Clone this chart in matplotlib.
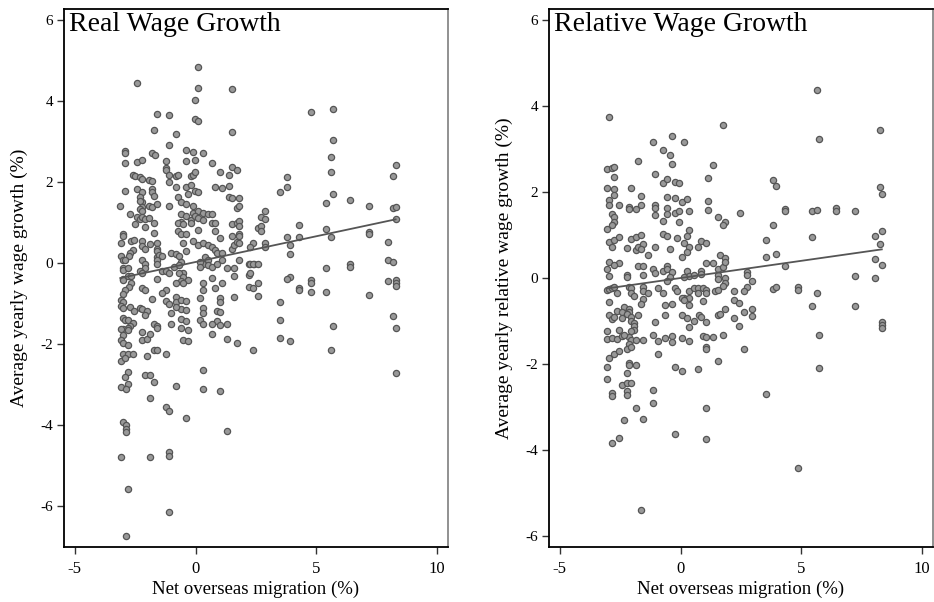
import matplotlib
matplotlib.use("Agg")
import matplotlib.pyplot as plt
import numpy as np

plt.rcParams['font.family'] = ['Liberation Serif', 'DejaVu Serif']

# ---------------- data: real wage growth ----------------
real_x = [
    -2.41, 0.10, 1.49, -0.01, -1.61, -1.12, -0.01, 0.10, -1.71, -0.82, 1.49, -1.12, -2.91, -2.91, -1.81, -1.70,
    -0.41, -0.11, 0.29, -2.91, -2.41, -2.21, -1.21, -0.41, -0.01, 0.69, -2.61, -2.51, -2.32, -2.21, -1.92, -1.81,
    -1.21, -1.21, -1.12, -0.82, -0.72, -0.21, -0.11, -0.01, 0.99, 1.40, 1.49, 1.70, -1.12, -2.91, -2.41, -2.21,
    -1.81, -1.81, -1.71, -0.82, -0.41, -0.21, -0.32, -0.01, 0.10, 0.79, 1.09, 1.40, -2.32, -2.21, -2.32, -3.12,
    -2.21, -1.92, -1.81, -1.61, -2.32, -2.21, -1.12, -0.72, -0.61, -0.41, -0.11, 1.40, 1.49, 1.79, 1.70, 1.79,
    -2.72, -2.41, -2.32, -2.21, -2.11, -2.51, -2.11, -1.92, -1.71, -0.61, -0.41, -0.21, -0.11, 0.10, 0.29, 0.50,
    0.69, -0.01, 0.10, 0.29, -0.61, -0.72, -0.51, -0.21, 0.69, 0.79, 0.79, 1.49, 1.70, 1.79, 1.79, -3.01,
    -3.01, -1.71, -0.72, -0.61, -0.41, 0.10, 0.99, 1.49, 1.79, 1.79, 0.10,
    -3.11, -2.66, -2.57, -2.21, -1.90, -1.61, -2.21, -2.11, -1.61, -1.61, -2.61, -2.70, -2.75, -3.11, -3.01, -2.91,
    -3.01, -3.01, -2.80, -3.01, -3.01, -2.80, -2.66, -2.66, -2.75, -2.91, -3.01, -3.11, -3.01, -3.11, -3.01, -2.70,
    -2.57, -2.32, -2.21, -2.02, -2.11, -3.01, -2.91, -2.80, -2.61, -2.70, -2.80, -3.01, -3.11, -2.80, -3.01, -3.11,
    -3.01, -2.80, -3.01, -2.80, -2.61, -3.11, -2.91, -2.80, -2.91, -2.80, -2.21, -2.21, -2.02, -1.90, -2.02, -1.81,
    -1.71, -1.61, -1.61, -1.71, -1.61, -1.21, -2.11, -1.90, -1.61, -1.52, -1.41, -1.61, -1.61, -1.41, -1.61, -1.21,
    -1.10, -1.01, -0.82, -0.70, -0.61, -0.91, -0.70, -0.51, -0.70, -0.51, -0.61, -0.32, -0.82, -0.51, -1.21, -1.41,
    -1.21, -1.10, -0.82, -0.82, -0.61, -0.41, -0.61, -0.41, -0.82, -1.01, -0.61, -1.01, -0.41, -0.61, -0.32, -0.51,
    -0.32, 0.29, 0.29, 0.19, 0.29, 0.29, 0.19, 0.29, 0.79, 0.69, 1.09, 0.99, 0.99, 0.88, 0.99, 0.88,
    0.99, 0.69, 1.28, 0.69, 1.28, 1.70, 0.29, -0.51, -0.41, -0.11, 0.10, 0.29, 0.50, 0.69, 0.79, 0.88,
    1.09, 0.39, 0.50, 0.29, 0.19, 0.19, 0.50, 0.69, 0.88, 1.09, 1.28, 1.60, 1.49, 1.60, 1.70, 1.79,
    1.79, 1.60, 2.19, 2.19, 2.40, 2.19, 1.60, -2.21, -2.11, -2.11, -2.32, -2.21, -2.21, -2.11,
    -3.11, -2.90, -1.71, -0.82, 0.29, 0.99, -1.90, -1.21, -1.10, -0.41, -3.01, -2.90, -2.90, -2.90, 1.30, -3.11,
    -1.90, -1.10, -1.10, -2.80, -1.10, -2.90,
    4.79, 5.69, 5.69, 5.59, 5.59, 5.69, 5.38, 6.39, 7.18, 8.28, 8.19, 8.19, 8.28, 8.28, 3.49, 3.80,
    3.80, 2.88, 2.69, 2.88, 2.59, 2.69, 2.69, 4.29, 5.38, 3.80, 4.29, 5.59, 7.18, 7.18, 3.90, 3.90,
    2.39, 2.88, 2.88, 2.24, 7.98, 7.98, 8.19, 2.24, 2.39, 2.59, 2.24, 2.59, 2.39, 2.59, 3.90, 3.80,
    4.29, 4.29, 4.79, 4.79, 4.79, 5.38, 5.38, 6.39, 6.39, 7.18, 7.98, 8.28, 8.28, 8.28, 3.49, 3.49,
    8.19, 3.49, 3.90, 2.39, 5.69, 5.59, 8.28, 8.28,
]
real_y = [
    4.44, 4.33, 4.30, 4.02, 3.68, 3.65, 3.55, 3.50, 3.28, 3.19, 3.23, 2.91, 2.77, 2.72, 2.72, 2.67,
    2.78, 2.74, 2.71, 2.48, 2.49, 2.54, 2.52, 2.51, 2.54, 2.47, 2.17, 2.15, 2.13, 2.07, 2.06, 2.03,
    2.35, 2.29, 2.18, 2.15, 2.17, 2.14, 2.18, 2.26, 2.24, 2.18, 2.37, 2.31, 2.01, 1.79, 1.82, 1.75,
    1.84, 1.75, 1.65, 1.87, 1.88, 1.93, 1.70, 1.79, 1.76, 1.88, 1.85, 1.90, 1.64, 1.51, 1.53, 1.41,
    1.39, 1.41, 1.38, 1.46, 1.33, 1.28, 1.41, 1.64, 1.50, 1.46, 1.42, 1.64, 1.60, 1.60, 1.37, 1.42,
    1.21, 1.14, 1.10, 1.15, 1.08, 0.96, 0.90, 1.12, 0.98, 1.21, 1.16, 1.06, 1.23, 1.28, 1.23, 1.21,
    1.21, 1.16, 1.12, 1.06, 1.02, 0.98, 0.96, 1.00, 0.98, 1.00, 0.80, 0.96, 1.00, 1.04, 0.92, 0.73,
    0.68, 0.75, 0.80, 0.72, 0.72, 0.81, 0.63, 0.67, 0.73, 0.67, 4.84,
    0.49, 0.55, 0.57, 0.55, 0.47, 0.50, 0.42, 0.36, 0.36, 0.30, 0.32, 0.24, 0.17, 0.17, 0.09, 0.09,
    -0.11, -0.17, -0.11, -0.38, -0.42, -0.32, -0.32, -0.50, -0.58, -0.67, -0.75, -0.91, -0.95, -1.06, -1.10, -1.08,
    -1.18, -1.10, -1.14, -1.18, -1.28, -1.34, -1.39, -1.41, -1.47, -1.55, -1.59, -1.63, -1.63, -1.65, -1.78, -1.90,
    -1.98, -2.02, -2.23, -2.23, -2.25, -2.42, -2.35, -2.68, -2.81, -2.97, -1.70, -1.90, -1.86, -1.74, -2.29, -0.89,
    -1.49, -1.55, -1.61, -2.15, -2.15, -2.23, -2.75, -2.75, 0.16, 0.20, 0.17, 0.09, -0.01, -0.19, -0.40, -0.19,
    -0.25, 0.26, 0.22, 0.17, 0.03, -0.09, -0.05, -0.24, -0.25, -0.34, -0.44, -0.42, -0.50, -0.50, -0.65, -0.73,
    -0.93, -1.01, -0.83, -0.95, -0.91, -0.93, -1.12, -1.16, -1.08, -1.24, -1.37, -1.49, -1.42, -1.60, -1.64, -1.90,
    -1.93, -0.48, -0.67, -0.87, -1.10, -1.23, -1.39, -1.51, -0.60, -0.36, -0.48, -0.87, -0.95, -1.18, -1.20, -1.42,
    -1.53, -1.49, -1.51, -1.74, -1.86, -1.98, -2.64, 0.49, 0.31, 0.54, 0.44, 0.50, 0.44, 0.40, 0.32, 0.26,
    0.26, 0.16, 0.07, -0.01, 0.03, -0.09, -0.05, -0.09, -0.03, 0.07, -0.13, -0.11, 0.36, 0.44, 0.53, 0.50,
    0.09, -0.32, -0.30, -0.03, -0.01, -0.58, -0.83, 0.09, -0.01, -0.11, -0.19, -0.25, -0.60, -0.67,
    -3.05, -3.10, -2.93, -3.04, -3.10, -3.15, -3.33, -3.55, -3.65, -3.81, -3.92, -4.00, -4.08, -4.17, -4.14, -4.78,
    -4.77, -4.66, -4.75, -5.57, -6.13, -6.74,
    3.72, 3.80, 3.04, 2.61, 2.26, 1.71, 1.48, 1.57, 1.41, 2.42, 2.14, 1.36, 1.39, 1.09, 1.75, 1.89,
    2.13, 1.29, 1.14, 1.10, 0.86, 0.92, 0.80, 0.95, 0.85, 0.65, 0.65, 0.65, 0.77, 0.73, 0.44, 0.22,
    0.50, 0.49, 0.40, 0.40, 0.53, 0.08, 0.03, -0.02, -0.02, -0.02, -0.25, -0.50, -0.62, -0.80, -0.34, -0.39,
    -0.62, -0.66, -0.42, -0.50, -0.71, -0.11, -0.71, -0.01, -0.09, -0.79, -0.45, -0.42, -0.50, -0.56, -0.95, -1.39,
    -1.31, -1.85, -1.93, -2.15, -1.56, -2.13, -1.60, -2.71,
]

# ---------------- data: relative wage growth ----------------
rel_x = [
    -2.95, 1.74, -0.34, -1.14, 0.15, -0.74, -0.44, -1.75, -0.34, 1.34, -3.04, -2.85, -2.75, -2.75, -1.05, -0.74,
    -0.55, -0.25, -0.05, 1.14, -3.04, -2.75, -2.75, -2.04, -1.65, -2.95, -2.95, -2.55, -2.13, -2.13, -1.84, -1.65,
    -1.05, -1.05, -1.05, -0.55, -0.25, -0.55, -0.55, -0.25, -0.05, 0.06, 0.25, 0.34, 1.14, 1.14, 1.54, 1.85,
    1.74, 2.44, -2.85, -2.75, -2.75, -2.85, -3.04, -0.74, -0.05, -0.74, -0.55, -0.15, 0.25, 0.34, -2.95, -2.75,
    -2.55, -2.85, -2.04, -1.84, -1.65, -2.23, -1.84, -1.75, -1.54, -1.65, -1.05, -1.35, -0.44, 0.15, 0.34, 0.25,
    0.06, 0.74, 0.84, 1.05, 1.64, 1.85,
    -2.95, -2.55, -2.75, -3.04, -2.95, -2.23, -2.23, -1.75, -1.54, -1.54, -1.14, -1.05, -0.74, -0.55, -0.55, -0.34,
    -0.44, -0.55, 0.25, 0.34, 0.15, 0.55, 0.84, 0.84, 1.05, 1.36, 1.54, 1.74, 1.85, 1.54, 1.54, 1.85,
    1.85, 1.74, -3.04, -2.95, -2.85, -2.75, -2.64, -2.13, -2.04, -2.04, -1.54, -1.54, -1.35, -1.94, -1.54, -1.65,
    -0.95, -0.74, -0.25, -0.15, 0.15, 0.34, 0.34, 0.55, 0.74, 0.74, 0.94, 1.05, 1.05, 1.44, 1.54, 2.22,
    0.94, 2.22, 2.43, -2.95, -2.34, -2.13, -2.13, -2.64, -2.44, -0.65, -0.34, 0.06, 0.15, 0.34, 1.85, -2.95,
    -2.85, -2.75, -2.44, -2.23, -2.04, -2.04, -1.94, -1.75, -1.94, -1.94, -2.04, -1.05, -0.65, 0.06, 0.25, 0.55,
    0.75, 0.84, 1.05, 0.34, 1.54, 1.64, 2.22, 2.43, -3.04, -3.04, -2.85, -2.64, -2.55, -2.44, -2.13, -2.04,
    -1.84, -1.54, -2.34, -1.14, -0.95, -0.65, -0.34, -0.34, 0.06, 0.34, 0.94, 1.05, 1.34, 1.74, -2.13, -2.23,
    -2.04, 1.05, 1.05, -2.95, -2.75, -2.55, -0.95, 1.54, -3.04, -2.13, -2.13, -1.84, -0.25, 0.06, 0.74, -3.04,
    -2.23, -2.44, -2.23, -2.04, -2.85, -2.85, -2.23, -2.23, -1.14, -1.14,
    -1.84, 1.05, -2.34, -1.54, -2.85, -2.55, -0.25, 1.05, -1.65,
    5.63, 5.74, 8.24, 3.84, 3.94, 8.24, 8.33, 4.34, 4.34, 5.43, 5.63, 6.43, 6.43, 7.23, 3.84, 3.54,
    5.43, 8.03, 8.33, 8.24, 3.54, 3.94, 4.34, 8.03, 8.33, 2.74, 2.74, 2.95, 2.74, 2.64, 3.84, 3.94,
    4.84, 4.84, 5.63, 7.23, 8.03, 5.43, 7.23, 2.64, 2.95, 2.95,
    2.64, 5.74, 5.74, 8.33, 8.33, 8.33, 3.54, 4.84,
]
rel_y = [
    3.75, 3.57, 3.30, 3.16, 3.16, 2.97, 2.87, 2.73, 2.65, 2.64, 2.54, 2.55, 2.59, 2.35, 2.43, 2.21,
    2.31, 2.24, 2.21, 2.33, 2.09, 2.06, 1.93, 2.09, 1.91, 1.81, 1.71, 1.71, 1.66, 1.60, 1.60, 1.69,
    1.71, 1.64, 1.47, 1.89, 1.87, 1.62, 1.50, 1.52, 1.56, 1.78, 1.84, 1.57, 1.79, 1.58, 1.41, 1.30,
    1.23, 1.52, 1.48, 1.41, 1.30, 1.23, 1.14, 1.33, 1.31, 1.03, 0.98, 0.93, 0.98, 1.12, 0.84, 0.88,
    0.95, 0.71, 0.91, 0.95, 1.01, 0.69, 0.65, 0.71, 0.79, 0.67, 0.72, 0.54, 0.67, 0.81, 0.71, 0.61,
    0.50, 0.71, 0.85, 0.82, 0.54, 0.46,
    0.38, 0.36, 0.30, 0.20, 0.05, 0.07, 0.02, 0.29, 0.29, 0.07, 0.22, 0.11, 0.17, 0.28, 0.22, 0.15,
    0.02, -0.06, 0.17, 0.05, 0.03, 0.07, 0.17, 0.09, 0.36, 0.36, 0.22, 0.26, 0.38, 0.07, -0.03, -0.01,
    -0.12, -0.19, -0.28, -0.26, -0.24, -0.22, -0.34, -0.20, -0.24, -0.34, -0.20, -0.30, -0.34, -0.43, -0.50, -0.61,
    -0.24, -0.34, -0.24, -0.30, -0.46, -0.30, -0.47, -0.24, -0.24, -0.34, -0.24, -0.28, -0.34, -0.30, -0.28, -0.30,
    -0.53, -0.51, -0.59, -0.57, -0.68, -0.73, -0.78, -0.76, -0.78, -0.63, -0.61, -0.47, -0.51, -0.63, -0.71, -0.86,
    -0.96, -0.90, -0.92, -0.84, -0.90, -1.00, -1.04, -0.85, -1.12, -1.21, -1.23, -1.02, -0.86, -0.86, -0.94, -0.99,
    -0.86, -0.90, -1.03, -1.15, -0.85, -0.84, -0.94, -1.12, -1.23, -1.43, -1.40, -1.43, -1.22, -1.35, -1.38, -1.44,
    -1.44, -1.44, -1.33, -1.33, -1.46, -1.39, -1.35, -1.48, -1.40, -1.46, -1.35, -1.38, -1.38, -1.33, -1.54, -1.65,
    -1.61, -1.60, -1.65, -1.87, -1.78, -1.71, -1.77, -1.93, -2.08, -1.97, -2.02, -2.02, -2.08, -2.16, -2.12, -2.36,
    -2.20, -2.49, -2.45, -2.45, -2.67, -2.74, -2.64, -2.72, -2.61, -2.92,
    -3.03, -3.03, -3.31, -3.27, -3.85, -3.73, -3.62, -3.75, -5.41,
    4.37, 3.24, 3.44, 2.27, 2.14, 2.12, 1.95, 1.60, 1.55, 1.55, 1.59, 1.64, 1.56, 1.55, 1.23, 0.88,
    0.96, 0.98, 1.10, 0.79, 0.48, 0.55, 0.29, 0.44, 0.31, 0.13, 0.07, -0.08, -0.21, -0.30, -0.25, -0.22,
    -0.21, -0.28, -0.36, 0.04, -0.01, -0.64, -0.64, -0.78, -0.71, -0.89,
    -1.65, -1.33, -2.09, -1.02, -1.09, -1.17, -2.70, -4.42,
]

# linear fits (intercept, slope)
real_fit = [0.03, 0.127]
rel_fit = [0.0, 0.08]

titles = ["Real Wage Growth", "Relative Wage Growth"]
ylabels = ["Average yearly wage growth (%)", "Average yearly relative wage growth (%)"]
xlabel = "Net overseas migration (%)"
xticks = [-5, 0, 5, 10]
yticks = [-6, -4, -2, 0, 2, 4, 6]

fig = plt.figure(figsize=(9.34, 6.02), dpi=100)
ax1 = fig.add_axes([64 / 934, 1 - 547 / 602, 384 / 934, 538 / 602])
ax2 = fig.add_axes([549 / 934, 1 - 547 / 602, 384 / 934, 538 / 602])

panels = [
    (ax1, real_x, real_y, real_fit, (-7.0, 6.27)),
    (ax2, rel_x, rel_y, rel_fit, (-6.26, 6.26)),
]

for i, (ax, xs, ys, fit, ylim) in enumerate(panels):
    xs = np.array(xs)
    ys = np.array(ys)
    ax.scatter(xs, ys, s=20, facecolor='#999999', edgecolor='#555555',
               linewidths=0.9, zorder=2)
    xx = np.array([xs.min(), xs.max()])
    ax.plot(xx, fit[0] + fit[1] * xx, color='#555555', lw=1.3, zorder=3)
    ax.set_xlim(-5.45, 10.45)
    ax.set_ylim(*ylim)
    ax.set_xticks(xticks)
    ax.set_yticks(yticks)
    ax.set_xticklabels([str(t) for t in xticks], fontsize=12)
    ax.set_yticklabels([str(t) for t in yticks], fontsize=11)
    ax.tick_params(direction='out', length=5, width=1, color='#333333')
    ax.tick_params(axis='x', pad=5)
    ax.tick_params(axis='y', pad=3)
    ax.set_xlabel(xlabel, fontsize=13.5, labelpad=3)
    ax.set_ylabel(ylabels[i], fontsize=14, labelpad=9)
    for side in ['left', 'bottom', 'top']:
        ax.spines[side].set_color('black')
        ax.spines[side].set_linewidth(1.3)
    ax.spines['right'].set_color('#888888')
    ax.spines['right'].set_linewidth(1.3)
    ax.text(0.012, 0.995, titles[i], transform=ax.transAxes, ha='left', va='top',
            fontsize=20, color='black')

fig.savefig("out.png", dpi=100)
